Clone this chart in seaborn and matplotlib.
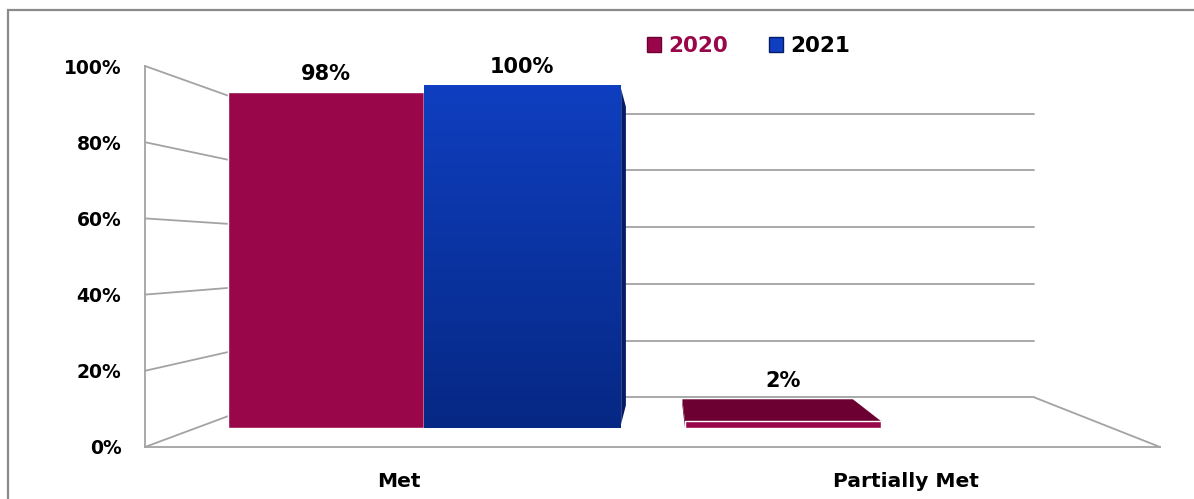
import numpy as np
import pandas as pd
import matplotlib
matplotlib.use("Agg")
import matplotlib.pyplot as plt
from matplotlib.patches import Patch, Polygon, Rectangle
from matplotlib.colors import LinearSegmentedColormap
import seaborn as sns

# ---- data -------------------------------------------------------------
categories = ["Met", "Partially Met"]
years = ["2020", "2021"]
status = ["Met", "Met", "Partially Met"]
year = ["2020", "2021", "2020"]
pct = [98, 100, 2]
y_ticks = [0, 20, 40, 60, 80, 100]
y_tick_labels = ["0%", "20%", "40%", "60%", "80%", "100%"]

# ---- style ------------------------------------------------------------
sns.set_theme(style="white")
plt.rcParams["font.family"] = ["DejaVu Sans"]
plt.rcParams["font.weight"] = "bold"

RED = "#99074a"
RED_DARK = "#6c0032"
BLUE_TOP = "#0f3fc0"
BLUE_BOTTOM = "#062884"
BLUE_DARK = "#061b66"
GRID = "#a3a3a3"

W, H = 1194, 499
fig = plt.figure(figsize=(W / 100, H / 100), dpi=100)
fig.patch.set_facecolor("white")

# outer frame of the chart area
fig.patches.append(Rectangle((8 / W, -0.02), 1.1, 1 - 10 / H + 0.02,
                             transform=fig.transFigure, fill=False,
                             ec="#8a8a8a", lw=1.6))

# front plane of the chart: px 145..1160 horizontally, 447..66 vertically
L, R, B, T = 145, 1160, 447, 66
rect = [L / W, 1 - B / H, (R - L) / W, (B - T) / H]

ax = fig.add_axes(rect)
ax.set_xlim(-0.5, 1.5)
ax.set_ylim(0, 100)
ax.set_facecolor("none")
for side in ["top", "right"]:
    ax.spines[side].set_visible(False)
for side in ["left", "bottom"]:
    ax.spines[side].set_color(GRID)
    ax.spines[side].set_linewidth(1.3)
ax.set_yticks(y_ticks)
ax.set_yticklabels(y_tick_labels, fontsize=13.5, fontweight="bold", color="black")
ax.tick_params(axis="y", length=0, pad=17)
ax.set_xticks([0, 1])
ax.set_xticklabels(categories, fontsize=14.5, fontweight="bold", color="black")
ax.tick_params(axis="x", length=0, pad=18)
ax.set_xticks([0.5, 1.5], minor=True)
ax.tick_params(axis="x", which="minor", direction="in", length=7,
               width=1.3, color=GRID)

# perspective walls (vanishing point and depth factor of the back wall)
VP_X, VP_Y, K_WALL = 0.53, 51.0, 0.745


def to_back(x, v, k=K_WALL):
    return VP_X + (x - VP_X) * k, VP_Y + (v - VP_Y) * k


bl_x, _ = to_back(-0.5, 0)
br_x, _ = to_back(1.5, 0)
for v in y_ticks:
    bx, bv = to_back(-0.5, v)
    ax.plot([-0.5, bx], [v, bv], color=GRID, lw=1.3, clip_on=False)
    ax.plot([bl_x, br_x], [bv, bv], color=GRID, lw=1.3, clip_on=False)
_, b0 = to_back(1.5, 0)
ax.plot([1.5, br_x], [0, b0], color=GRID, lw=1.3, clip_on=False)

# ---- bars -------------------------------------------------------------
df = pd.DataFrame({"status": status, "year": year, "pct": pct})

axb = fig.add_axes(rect)
axb.set_facecolor("none")
sns.barplot(data=df, x="status", y="pct", hue="year", order=categories,
            hue_order=years, palette={"2020": RED, "2021": BLUE_BOTTOM},
            width=0.858, saturation=1, legend=False, ax=axb, zorder=3)

# bars: centre 0 at px 424, centre 1 at px 881; 0 % at px 428, 100 % at px 85
px_per_cat = 457.0
px_per_pct = 3.43
xlim_b = ((L - 424) / px_per_cat, (R - 424) / px_per_cat)
ylim_b = (-(B - 428) / px_per_pct, (428 - T) / px_per_pct)

# bar depth: back faces shrink toward the eye point
EYE_X, EYE_Y, K_BAR = (665 - 424) / px_per_cat, (428 - 253) / px_per_pct, 0.87


def back_pt(x, y):
    return EYE_X + (x - EYE_X) * K_BAR, EYE_Y + (y - EYE_Y) * K_BAR


blue_cmap = LinearSegmentedColormap.from_list("blue", [BLUE_BOTTOM, BLUE_TOP])

bars = [p for p in axb.patches if p.get_height() > 0]
for bar in bars:
    x0 = bar.get_x()
    x1 = x0 + bar.get_width()
    h = bar.get_height()
    is_blue = bar.get_facecolor()[2] > bar.get_facecolor()[0]
    dark = BLUE_DARK if is_blue else RED_DARK
    bx0, bh = back_pt(x0, h)
    bx1, b0 = back_pt(x1, 0)
    # side face
    if x1 < EYE_X:
        axb.add_patch(Polygon([(x1, 0), (x1, h), (bx1, bh), (bx1, b0)],
                              closed=True, fc=dark, ec="none", zorder=2))
    elif x0 > EYE_X:
        axb.add_patch(Polygon([(x0, 0), (x0, h), (bx0, bh), (bx0, b0)],
                              closed=True, fc=dark, ec="none", zorder=2))
    # top face when the bar is below eye height
    if h < EYE_Y:
        axb.add_patch(Polygon([(x0, h), (x1, h), (bx1, bh), (bx0, bh)],
                              closed=True, fc=dark, ec="none", zorder=2))
    if is_blue:
        grad = axb.imshow(np.linspace(0, 1, 256).reshape(-1, 1),
                          cmap=blue_cmap, aspect="auto", origin="lower",
                          extent=[x0, x1, 0, h], zorder=3.5)
        grad.set_clip_path(bar)
    # value label above the box
    top = max(h, bh)
    axb.annotate(f"{h:.0f}%", xy=((x0 + x1) / 2, top), xytext=(0, 13),
                 textcoords="offset points", ha="center", va="center",
                 fontsize=15, fontweight="bold", color="black", zorder=6,
                 bbox=dict(fc="white", ec="none", pad=1.5),
                 annotation_clip=False)

axb.set_xlim(*xlim_b)
axb.set_ylim(*ylim_b)
axb.axis("off")

# ---- legend -----------------------------------------------------------
handles = [Patch(fc=RED, ec=RED_DARK, lw=1), Patch(fc=BLUE_TOP, ec=BLUE_DARK, lw=1)]
leg = fig.legend(handles, years, loc="center", bbox_to_anchor=(0.627, 0.908),
                 ncol=2, frameon=False, prop={"size": 15.5, "weight": "bold"},
                 handlelength=0.65, handleheight=0.65, handletextpad=0.35,
                 columnspacing=1.9)
leg.get_texts()[0].set_color(RED)
leg.get_texts()[1].set_color("black")

fig.savefig("out.png", dpi=100, facecolor="white")
